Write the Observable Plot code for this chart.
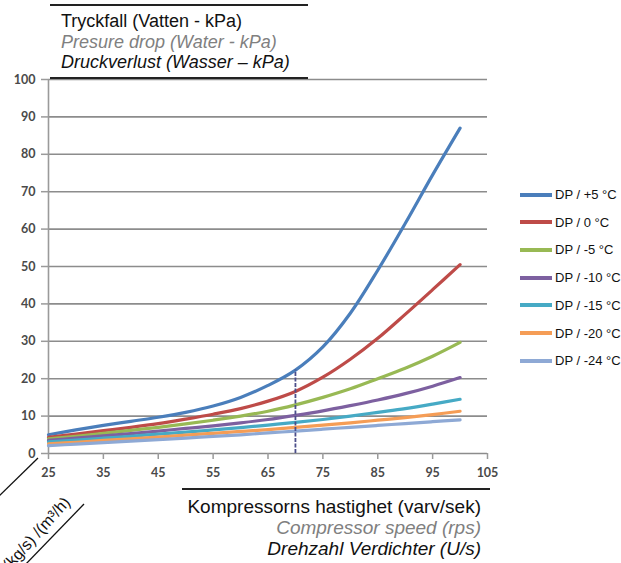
<!DOCTYPE html>
<html>
<head>
<meta charset="utf-8">
<script src="https://cdn.jsdelivr.net/npm/d3@7"></script>
<script src="https://cdn.jsdelivr.net/npm/@observablehq/plot@0.6"></script>
<style>
  body { margin: 0; background: #fff; }
  #wrap { position: relative; width: 621px; height: 563px; overflow: hidden; font-family: "Liberation Sans", Arial, sans-serif; }
  #wrap > svg.plot { position: absolute; left: 0; top: 0; }
  .t { position: absolute; white-space: nowrap; font-size: 18px; line-height: 21px; }
  .hl { position: absolute; height: 2px; background: #222; }
  .leg { position: absolute; left: 520px; font-size: 13px; line-height: 16px; color: #111; white-space: nowrap; }
  .leg span.sw { display: inline-block; width: 32px; height: 4px; vertical-align: middle; margin-right: 3px; position: relative; top: -1px; }
  #deco { position: absolute; left: 0; top: 0; }
</style>
</head>
<body>
<div id="wrap"></div>
<script>
// ---- data ----
const speed = [25, 30, 35, 40, 45, 50, 55, 60, 65, 70, 75, 80, 85, 90, 95, 100];
const seriesNames = ["DP / +5 °C", "DP / 0 °C", "DP / -5 °C", "DP / -10 °C", "DP / -15 °C", "DP / -20 °C", "DP / -24 °C"];
const dpPlus5  = [5.0, 6.3, 7.5, 8.6, 9.7, 11.0, 12.7, 15.0, 18.2, 22.3, 28.5, 37.5, 49.0, 61.5, 74.5, 87.0];
const dp0      = [4.3, 5.2, 6.1, 7.0, 8.0, 9.2, 10.5, 12.0, 14.0, 16.6, 20.4, 25.2, 30.8, 37.2, 43.8, 50.5];
const dpMinus5 = [3.9, 4.6, 5.4, 6.2, 7.0, 7.9, 8.9, 10.0, 11.3, 13.0, 15.0, 17.3, 20.0, 22.8, 26.0, 29.7];
const dpMinus10 = [3.5, 4.1, 4.7, 5.3, 6.0, 6.7, 7.4, 8.2, 9.1, 10.2, 11.4, 12.8, 14.3, 16.0, 18.0, 20.3];
const dpMinus15 = [3.1, 3.6, 4.1, 4.6, 5.2, 5.7, 6.3, 6.9, 7.6, 8.3, 9.1, 10.0, 11.0, 12.0, 13.2, 14.5];
const dpMinus20 = [2.6, 3.0, 3.5, 3.9, 4.4, 4.9, 5.4, 5.9, 6.4, 7.0, 7.6, 8.2, 8.9, 9.6, 10.4, 11.3];
const dpMinus24 = [2.1, 2.5, 2.9, 3.3, 3.7, 4.1, 4.6, 5.0, 5.5, 6.0, 6.5, 7.0, 7.5, 8.0, 8.5, 9.0];
const seriesColors = ["#4A7EBB", "#BE4B48", "#98B954", "#7D60A0", "#46AAC5", "#F59D56", "#8EA9D5"];
const xTicks = [25, 35, 45, 55, 65, 75, 85, 95, 105];
const yTicks = [0, 10, 20, 30, 40, 50, 60, 70, 80, 90, 100];
const markerSpeed = 70;

const titleLines = ["Tryckfall (Vatten - kPa)", "Presure drop (Water - kPa)", "Druckverlust (Wasser – kPa)"];
const xTitleLines = ["Kompressorns hastighet (varv/sek)", "Compressor speed (rps)", "Drehzahl Verdichter (U/s)"];
const flowLabel = "Flöde (kg/s) /(m³/h)";

// ---- build table ----
const allSeries = [dpPlus5, dp0, dpMinus5, dpMinus10, dpMinus15, dpMinus20, dpMinus24];
const rows = [];
allSeries.forEach((vals, i) => vals.forEach((v, j) => rows.push({speed: speed[j], dp: v, series: seriesNames[i]})));
const markerTop = dpPlus5[speed.indexOf(markerSpeed)];

const tickFont = {fontFamily: "Lato, 'Liberation Sans', sans-serif", fontSize: 12.5, fontWeight: 700, fill: "#4a4a4a"};

const chart = Plot.plot({
  width: 621, height: 563,
  marginLeft: 48, marginRight: 134, marginTop: 79, marginBottom: 110,
  style: {background: "transparent", overflow: "visible"},
  x: {domain: [25, 105], label: null},
  y: {domain: [0, 100], label: null},
  color: {domain: seriesNames, range: seriesColors},
  marks: [
    Plot.gridY(yTicks, {stroke: "#8c8c8c", strokeOpacity: 1, strokeWidth: 1.6}),
    Plot.ruleX([25], {stroke: "#9a9a9a", strokeWidth: 1.6}),
    Plot.axisY(yTicks, {tickSize: 7, tickPadding: 6, stroke: "#9a9a9a", strokeWidth: 1.5, ...tickFont, label: null}),
    Plot.axisX(xTicks, {tickSize: 6, tickPadding: 9, stroke: "#9a9a9a", strokeWidth: 1.5, ...tickFont, label: null}),
    Plot.line(rows, {x: "speed", y: "dp", z: "series", stroke: "series", strokeWidth: 3.2, curve: "catmull-rom"}),
    Plot.ruleX([markerSpeed], {y1: 0, y2: markerTop, stroke: "#4b4e8a", strokeWidth: 1.8, strokeDasharray: "4,1.5"})
  ]
});
chart.classList.add("plot");
const wrap = document.getElementById("wrap");
wrap.appendChild(chart);

// ---- titles ----
function addText(txt, left, top, style, align, size) {
  const d = document.createElement("div");
  d.className = "t";
  d.textContent = txt;
  d.style.top = top + "px";
  if (size) d.style.fontSize = size + "px";
  if (align === "right") d.style.right = left + "px"; else d.style.left = left + "px";
  Object.assign(d.style, style);
  wrap.appendChild(d);
}
function addLine(left, top, width) {
  const d = document.createElement("div");
  d.className = "hl";
  d.style.left = left + "px"; d.style.top = top + "px"; d.style.width = width + "px";
  wrap.appendChild(d);
}
const lineStyles = [{color: "#111"}, {color: "#808080", fontStyle: "italic"}, {color: "#111", fontStyle: "italic"}];
addLine(50, 4, 258);
titleLines.forEach((t, i) => addText(t, 61, 11 + i * 20.5, lineStyles[i]));
addLine(50, 77, 258);

addLine(182, 488, 308);
xTitleLines.forEach((t, i) => addText(t, 621 - 481, 496 + i * 21, lineStyles[i], "right", 19));

// ---- legend ----
seriesNames.forEach((name, i) => {
  const d = document.createElement("div");
  d.className = "leg";
  d.style.top = (187 + i * 27.7) + "px";
  const sw = document.createElement("span");
  sw.className = "sw";
  sw.style.background = seriesColors[i];
  d.appendChild(sw);
  d.appendChild(document.createTextNode(name));
  wrap.appendChild(d);
});

// ---- diagonal decorations bottom-left ----
const ns = "http://www.w3.org/2000/svg";
const deco = document.createElementNS(ns, "svg");
deco.setAttribute("id", "deco");
deco.setAttribute("width", 621); deco.setAttribute("height", 563);
function dline(x1, y1, x2, y2) {
  const l = document.createElementNS(ns, "line");
  l.setAttribute("x1", x1); l.setAttribute("y1", y1); l.setAttribute("x2", x2); l.setAttribute("y2", y2);
  l.setAttribute("stroke", "#111"); l.setAttribute("stroke-width", 1.3);
  deco.appendChild(l);
}
dline(-2, 497, 38, 458);
dline(24, 566, 84, 504);
const ft = document.createElementNS(ns, "text");
ft.setAttribute("x", 0); ft.setAttribute("y", 0);
ft.setAttribute("text-anchor", "end");
ft.setAttribute("font-family", "'Liberation Sans', Arial, sans-serif");
ft.setAttribute("font-size", 16);
ft.setAttribute("fill", "#111");
ft.setAttribute("transform", "translate(71,503) rotate(-48)");
ft.textContent = flowLabel;
deco.appendChild(ft);
wrap.appendChild(deco);
</script>
</body>
</html>
